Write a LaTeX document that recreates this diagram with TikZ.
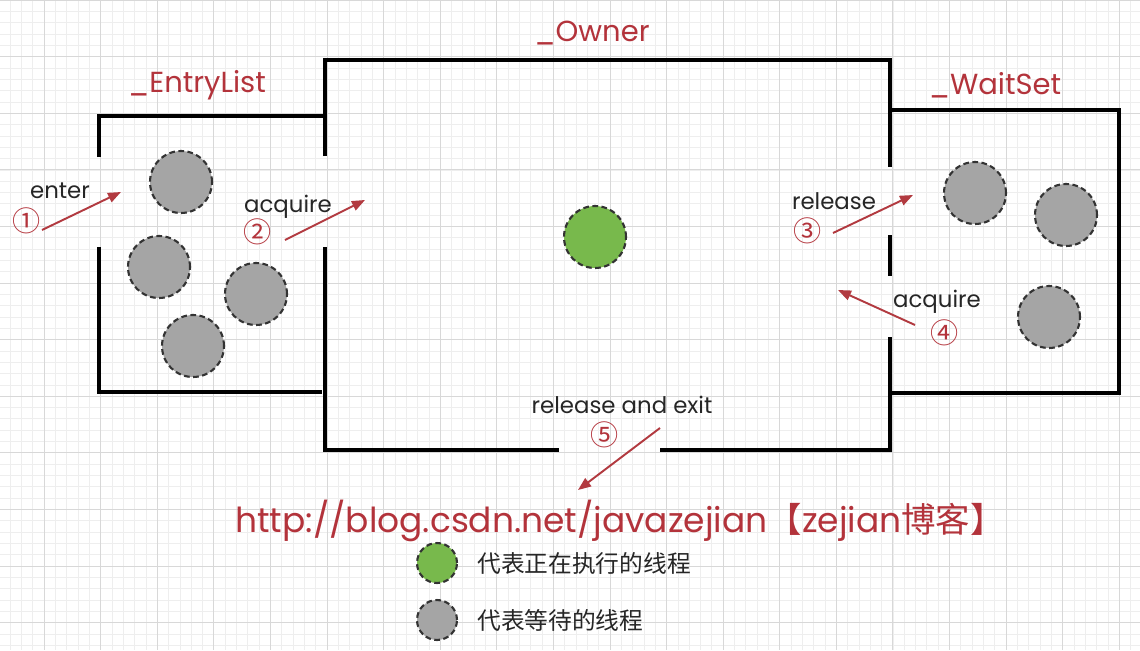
\documentclass[tikz,border=0pt]{standalone}
\usepackage{fontspec}
\setmainfont{Poppins}
\newfontfamily\cjkfont{Noto Sans CJK SC}
\usetikzlibrary{positioning}
\usetikzlibrary{arrows.meta}
\definecolor{monred}{HTML}{B3333B}
\definecolor{arrowred}{HTML}{B23A40}
\definecolor{waitgray}{HTML}{A5A5A5}
\definecolor{rungreen}{HTML}{78B94C}
\definecolor{gridminor}{HTML}{EEEEEE}
\definecolor{gridmajor}{HTML}{D8D8D8}

\begin{document}
\begin{tikzpicture}[x=0.02cm, y=-0.02cm,
    wall/.style={line width=2pt},
    thread/.style={draw=black!80, dash pattern=on 3.2pt off 2pt, line width=1.2pt, circle, minimum size=1.24cm, inner sep=0pt},
    waiting/.style={thread, fill=waitgray},
    running/.style={thread, fill=rungreen},
    setname/.style={text=monred, font=\fontsize{16.5}{20}\selectfont},
    actname/.style={text=black!85, font=\fontsize{13}{15}\selectfont},
    stepno/.style={text=monred, font=\cjkfont\fontsize{16}{18}\selectfont, inner sep=0pt},
    move/.style={arrowred, line width=1.1pt, -{Triangle[length=0.26cm, width=0.2cm]}},
    legendtxt/.style={font=\cjkfont\fontsize{13.5}{16}\selectfont, inner sep=0pt, text=black!85}]
    \useasboundingbox (0,0) rectangle (1140,650);
    \fill[white] (0,0) rectangle (1140,650);
    % background grid
    \begin{scope}[x=1cm, y=1cm, shift={(0.88cm,0cm)}]
        \clip (-0.88,0) rectangle (21.92,-13);
        \draw[gridminor, step=0.2264cm, line width=0.3pt] (-1,-14) grid (23,1);
        \draw[gridmajor, step=1.132cm, line width=0.4pt] (-1,-14) grid (23,1);
    \end{scope}

    % walls
    \draw[wall] (99,157) -- (99,116) -- (325,116);
    \draw[wall] (99,247) -- (99,392) -- (322,392);
    \draw[wall] (325,156) -- (325,60) -- (890,60) -- (890,167);
    \draw[wall] (325,247) -- (325,450) -- (559,450);
    \draw[wall] (660,450) -- (890,450) -- (890,337);
    \draw[wall] (890,235) -- (890,276);
    \draw[wall] (890,110) -- (1119,110) -- (1119,393) -- (890,393);

    \node[setname] (entrylbl) at (197,85) {\_EntryList};
    \node[setname] (ownerlbl) at (592,33) {\_Owner};
    \node[setname] (waitlbl) at (995,85) {\_WaitSet};

    % threads
    \node[waiting] (e1) at (181,182) {};
    \node[waiting] (e2) at (159,267) {};
    \node[waiting] (e3) at (256,294) {};
    \node[waiting] (e4) at (193,346) {};
    \node[running] (own) at (595,237) {};
    \node[waiting] (w1) at (975,193) {};
    \node[waiting] (w2) at (1066,215) {};
    \node[waiting] (w3) at (1049,317) {};

    % transitions
    \coordinate (enterfrom) at (42,230);
    \coordinate (enterto) at (121,192);
    \coordinate (acqfrom) at (285,240);
    \coordinate (acqto) at (365,200);
    \coordinate (relfrom) at (833,233);
    \coordinate (relto) at (913,195);
    \coordinate (reacqfrom) at (915,325);
    \coordinate (reacqto) at (838,290);
    \coordinate (exitfrom) at (660,428);
    \coordinate (exitto) at (578,490);
    \draw[move] (enterfrom) -- (enterto);
    \draw[move] (acqfrom) -- (acqto);
    \draw[move] (relfrom) -- (relto);
    \draw[move] (reacqfrom) -- (reacqto);
    \draw[move] (exitfrom) -- (exitto);

    \node[actname] (enterlbl) at (60,191) {enter};
    \node[stepno] (n1) at (27,221) {①};
    \node[actname] (acqlbl) at (288,207) {acquire};
    \node[stepno] (n2) at (258,232) {②};
    \node[actname] (rellbl) at (834,201) {release};
    \node[stepno] (n3) at (808,231) {③};
    \node[actname] (reacqlbl) at (937,302) {acquire};
    \node[stepno] (n4) at (945,333) {④};
    \node[actname] (exitlbl) at (622,405) {release and exit};
    \node[stepno] (n5) at (605,435) {⑤};

    \node[text=monred, font=\fontsize{19.6}{22}\selectfont] (blog) at (620,521)
        {http://blog.csdn.net/javazejian{\cjkfont 【}zejian{\cjkfont 博客】}};

    % legend
    \node[running, minimum size=0.8cm] (lgrun) at (437,563) {};
    \node[legendtxt, right=0.38cm of lgrun] (lgruntxt) {代表正在执行的线程};
    \node[waiting, minimum size=0.8cm] (lgwait) at (437,620) {};
    \node[legendtxt, right=0.38cm of lgwait] (lgwaittxt) {代表等待的线程};
\end{tikzpicture}
\end{document}
